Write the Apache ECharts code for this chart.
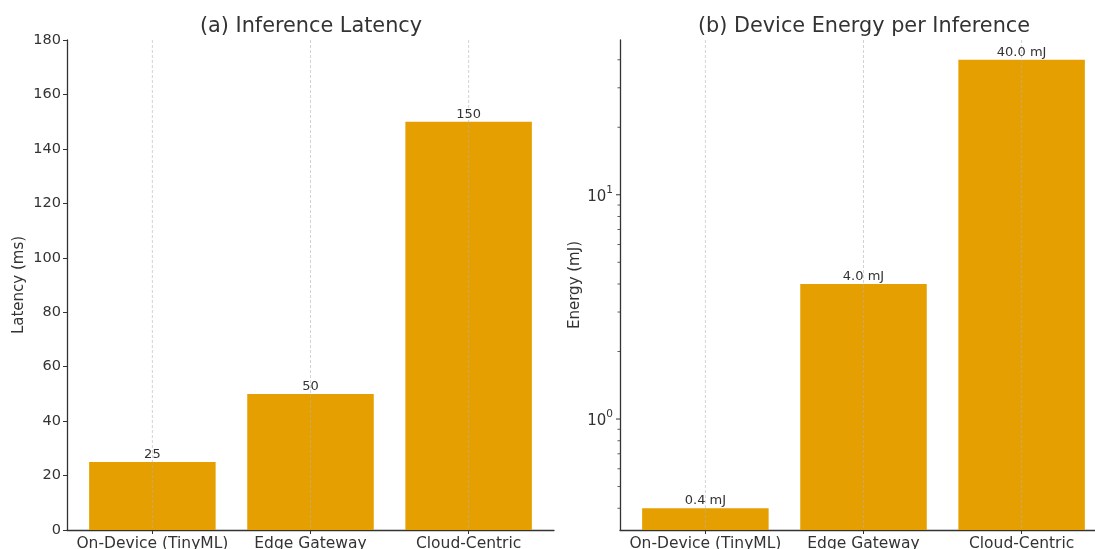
<!DOCTYPE html>
<html>
<head>
<meta charset="utf-8">
<script src="https://cdn.jsdelivr.net/npm/echarts@6/dist/echarts.min.js"></script>
<style>
  html, body { margin: 0; padding: 0; background: #ffffff; }
  #chart { width: 1095px; height: 549px; }
</style>
</head>
<body>
<div id="chart"></div>
<script>
// Deployment tiers compared in both panels
const categories = ['On-Device (TinyML)', 'Edge Gateway', 'Cloud-Centric'];
// (a) end-to-end inference latency, ms
const latencyMs = [25, 50, 150];
// (b) energy spent on the device per inference, mJ
const energyMJ = [0.4, 4.0, 40.0];
// axis ticks
const latencyTicks = [0, 20, 40, 60, 80, 100, 120, 140, 160, 180];
const energyMajorTicks = [1, 10];
const energyMinorTicks = [0.4, 0.5, 0.6, 0.7, 0.8, 0.9, 2, 3, 4, 5, 6, 7, 8, 9, 20, 30, 40];

const FONT = '"DejaVu Sans", "Liberation Sans", sans-serif';
const TEXT = '#333333';
const AXIS = '#333333';
const BAR = '#E69F00';

// "10" with the exponent raised, e.g. 10^1
function powerLabel(v) {
  const e = Math.round(Math.log10(v));
  return '{b|10}{e|' + e + '}';
}

// bar + dashed x-grid line + value label, positioned through the axis scales
function barRenderer(labelOf) {
  return function (params, api) {
    const x = api.value(0);
    const v = api.value(1);
    const top = api.coord([x, v]);
    const half = api.size([0.8, 0], [x, v])[0] / 2;
    const cs = params.coordSys;
    const bottom = cs.y + cs.height;
    return {
      type: 'group',
      children: [
        {
          type: 'rect',
          shape: { x: top[0] - half, y: top[1], width: half * 2, height: bottom - top[1] },
          style: { fill: BAR }
        },
        {
          type: 'line',
          shape: { x1: top[0], y1: cs.y, x2: top[0], y2: bottom },
          style: { stroke: '#b0b0b0', lineWidth: 0.8, lineDash: [3, 2], opacity: 0.7 }
        },
        {
          type: 'text',
          x: top[0],
          y: top[1] - 1,
          style: {
            text: labelOf(v),
            align: 'center',
            verticalAlign: 'bottom',
            font: '13px ' + FONT,
            fill: TEXT
          }
        }
      ]
    };
  };
}

// outward tick marks on the left edge of the log-scaled panel
function logTickRenderer(length, width) {
  return function (params, api) {
    const y = api.coord([0, api.value(1)])[1];
    const x0 = params.coordSys.x;
    return {
      type: 'line',
      shape: { x1: x0 - length, y1: y, x2: x0, y2: y },
      style: { stroke: AXIS, lineWidth: width }
    };
  };
}

function categoryAxis(gridIndex) {
  return {
    type: 'value',
    gridIndex: gridIndex,
    min: -0.54,
    max: 2.54,
    axisLine: { show: true, onZero: false, lineStyle: { color: AXIS, width: 1.3 } },
    axisTick: { show: true, length: 4, customValues: [0, 1, 2], lineStyle: { color: AXIS, width: 1 } },
    axisLabel: {
      customValues: [0, 1, 2],
      formatter: v => categories[Math.round(v)],
      color: TEXT,
      fontFamily: FONT,
      fontSize: 15.5,
      margin: 6
    },
    splitLine: { show: false }
  };
}

const latencyData = latencyMs.map((v, i) => [i, v]);
const energyData = energyMJ.map((v, i) => [i, v]);

const option = {
  backgroundColor: '#ffffff',
  animation: false,
  title: [
    {
      text: '(a) Inference Latency',
      left: 306, top: 11, textAlign: 'center',
      textStyle: { fontFamily: FONT, fontSize: 20.8, fontWeight: 'normal', color: TEXT }
    },
    {
      text: '(b) Device Energy per Inference',
      left: 859, top: 11, textAlign: 'center',
      textStyle: { fontFamily: FONT, fontSize: 20.8, fontWeight: 'normal', color: TEXT }
    }
  ],
  grid: [
    { left: 67, top: 40, width: 487, height: 490, containLabel: false, outerBoundsMode: 'none' },
    { left: 620, top: 40, width: 487, height: 490, containLabel: false, outerBoundsMode: 'none' }
  ],
  xAxis: [categoryAxis(0), categoryAxis(1)],
  yAxis: [
    {
      type: 'value',
      gridIndex: 0,
      min: latencyTicks[0],
      max: latencyTicks[latencyTicks.length - 1],
      interval: latencyTicks[1] - latencyTicks[0],
      name: 'Latency (ms)',
      nameLocation: 'middle',
      nameRotate: 90,
      nameGap: 40,
      nameTextStyle: { fontFamily: FONT, fontSize: 15, color: TEXT },
      axisLine: { show: true, onZero: false, lineStyle: { color: AXIS, width: 1.3 } },
      axisTick: { show: true, length: 4, lineStyle: { color: AXIS, width: 1 } },
      axisLabel: { color: TEXT, fontFamily: FONT, fontSize: 14.5, margin: 6 },
      splitLine: { show: false }
    },
    {
      type: 'log',
      logBase: 10,
      gridIndex: 1,
      min: 0.32,
      max: 49,
      name: 'Energy (mJ)',
      nameLocation: 'middle',
      nameRotate: 90,
      nameGap: 37,
      nameTextStyle: { fontFamily: FONT, fontSize: 15, color: TEXT },
      axisLine: { show: true, onZero: false, lineStyle: { color: AXIS, width: 1.3 } },
      axisTick: { show: false },
      axisLabel: {
        customValues: energyMajorTicks,
        formatter: v => powerLabel(v),
        color: TEXT, fontFamily: FONT, fontSize: 15, margin: 7,
        rich: {
          b: { fontFamily: FONT, fontSize: 15, color: TEXT, lineHeight: 20, verticalAlign: 'bottom' },
          e: { fontFamily: FONT, fontSize: 10.5, color: TEXT, lineHeight: 12, verticalAlign: 'top' }
        }
      },
      splitLine: { show: false }
    }
  ],
  series: [
    {
      type: 'custom',
      xAxisIndex: 0,
      yAxisIndex: 0,
      data: latencyData,
      renderItem: barRenderer(v => String(v))
    },
    {
      type: 'custom',
      xAxisIndex: 1,
      yAxisIndex: 1,
      data: energyData,
      renderItem: barRenderer(v => v.toFixed(1) + ' mJ')
    },
    {
      type: 'custom',
      xAxisIndex: 1,
      yAxisIndex: 1,
      silent: true,
      clip: false,
      data: energyMajorTicks.map(v => [0, v]),
      renderItem: logTickRenderer(4, 1)
    },
    {
      type: 'custom',
      xAxisIndex: 1,
      yAxisIndex: 1,
      silent: true,
      clip: false,
      data: energyMinorTicks.map(v => [0, v]),
      renderItem: logTickRenderer(2.5, 0.8)
    }
  ]
};

const chart = echarts.init(document.getElementById('chart'), null, { renderer: 'canvas' });
chart.setOption(option);
</script>
</body>
</html>
